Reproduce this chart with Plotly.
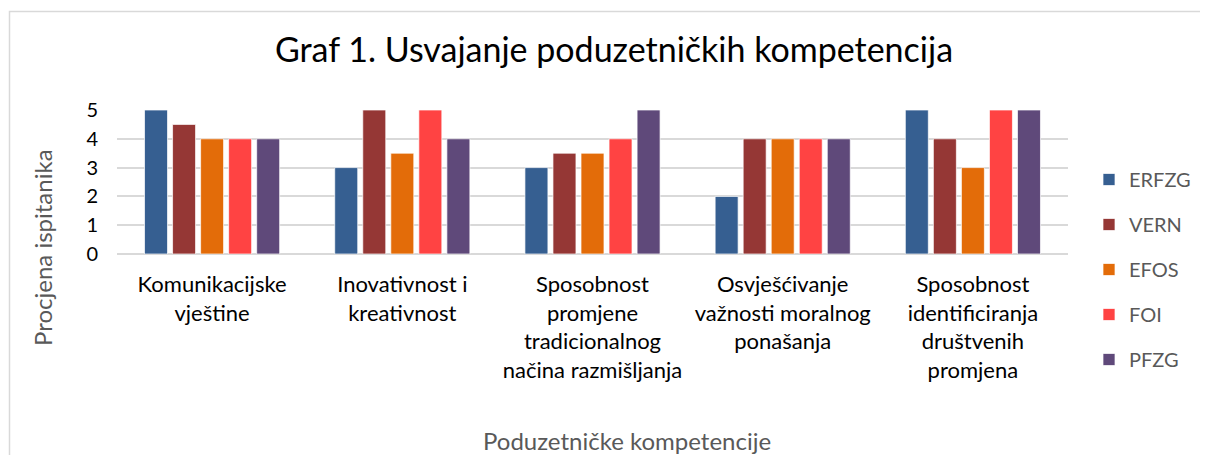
import plotly.graph_objects as go

categories = [
    "Komunikacijske\nvještine",
    "Inovativnost i\nkreativnost",
    "Sposobnost\npromjene\ntradicionalnog\nnačina razmišljanja",
    "Osvješćivanje\nvažnosti moralnog\nponašanja",
    "Sposobnost\nidentificiranja\ndruštvenih\npromjena",
]
series_names = ["ERFZG", "VERN", "EFOS", "FOI", "PFZG"]
erfzg = [5, 3, 3, 2, 5]
vern = [4.5, 5, 3.5, 4, 4]
efos = [4, 3.5, 3.5, 4, 3]
foi = [4, 5, 4, 4, 5]
pfzg = [4, 4, 5, 4, 5]
y_ticks = [0, 1, 2, 3, 4, 5]

title_text = "Graf 1. Usvajanje poduzetničkih kompetencija"
x_title = "Poduzetničke kompetencije"
y_title = "Procjena ispitanika"

colors = ["#365F91", "#953735", "#E36C09", "#FF4343", "#5F497A"]
FONT = "Lato"

# page body has an 8px default margin; work in figure pixel coordinates
OFF = 8
W, H = 1208 - OFF, 455 - OFF
# plot area in reference image pixels
PX0, PX1, PY0, PY1 = 117, 1068, 110, 254
L, R, T, B = PX0 - OFF, W - (PX1 - OFF), PY0 - OFF, H - (PY1 - OFF)
pw, ph = W - L - R, H - T - B


def px2x(p):  # reference image pixel -> paper x
    return (p - OFF - L) / pw


def py2y(p):  # reference image pixel -> paper y
    return (H - B - (p - OFF)) / ph


fig = go.Figure()
for name, vals, col in zip(series_names, [erfzg, vern, efos, foi, pfzg], colors):
    fig.add_trace(go.Bar(
        x=categories, y=vals, name=name, legendgroup=name,
        marker=dict(color=col, line=dict(color="rgba(255,255,255,0.7)", width=1)),
    ))

tick_text = ["<br>".join(c.split("\n")) for c in categories]

fig.update_layout(
    width=W, height=H,
    margin=dict(l=L, r=R, t=T, b=B, autoexpand=False),
    paper_bgcolor="white", plot_bgcolor="white",
    barmode="group", bargap=0.263, bargroupgap=0.18,
    font=dict(family=FONT, color="#000000"),
    title=dict(text=title_text, x=(614 - OFF) / W, xanchor="center", xref="container",
               y=1 - 42 / H, yanchor="middle", yref="container",
               font=dict(family=FONT, size=34, color="#000000")),
    xaxis=dict(tickmode="array", tickvals=categories, ticktext=tick_text,
               tickfont=dict(family=FONT, size=22, color="#000000"),
               showgrid=False, showline=False, zeroline=False, ticks="",
               ticklabelstandoff=15),
    yaxis=dict(range=[0, 5], tickvals=y_ticks, showgrid=True, gridcolor="#D9D9D9",
               gridwidth=1.5, zeroline=True, zerolinecolor="#D9D9D9", zerolinewidth=1.5,
               tickfont=dict(family=FONT, size=20, color="#000000"),
               ticks="", ticklabelstandoff=18, showline=False),
    legend=dict(x=px2x(1089), xanchor="left", y=py2y(160), yanchor="top",
                traceorder="grouped", tracegroupgap=16, maxheight=400,
                font=dict(family=FONT, size=20, color="#595959"),
                bgcolor="rgba(0,0,0,0)", itemclick=False),
    shapes=[dict(type="rect", xref="paper", yref="paper",
                 x0=px2x(9.5), x1=px2x(1230), y0=py2y(480), y1=py2y(11.5),
                 line=dict(color="#D9D9D9", width=1.5), fillcolor="rgba(0,0,0,0)", layer="below")],
    annotations=[
        dict(text=y_title, xref="paper", yref="paper", x=px2x(42), y=py2y(248),
             xanchor="center", yanchor="middle", textangle=-90, showarrow=False,
             font=dict(family=FONT, size=24, color="#595959")),
        dict(text=x_title, xref="paper", yref="paper", x=px2x(627), y=py2y(440),
             xanchor="center", yanchor="middle", showarrow=False,
             font=dict(family=FONT, size=24, color="#595959")),
    ],
)

fig.write_html("out.html")
